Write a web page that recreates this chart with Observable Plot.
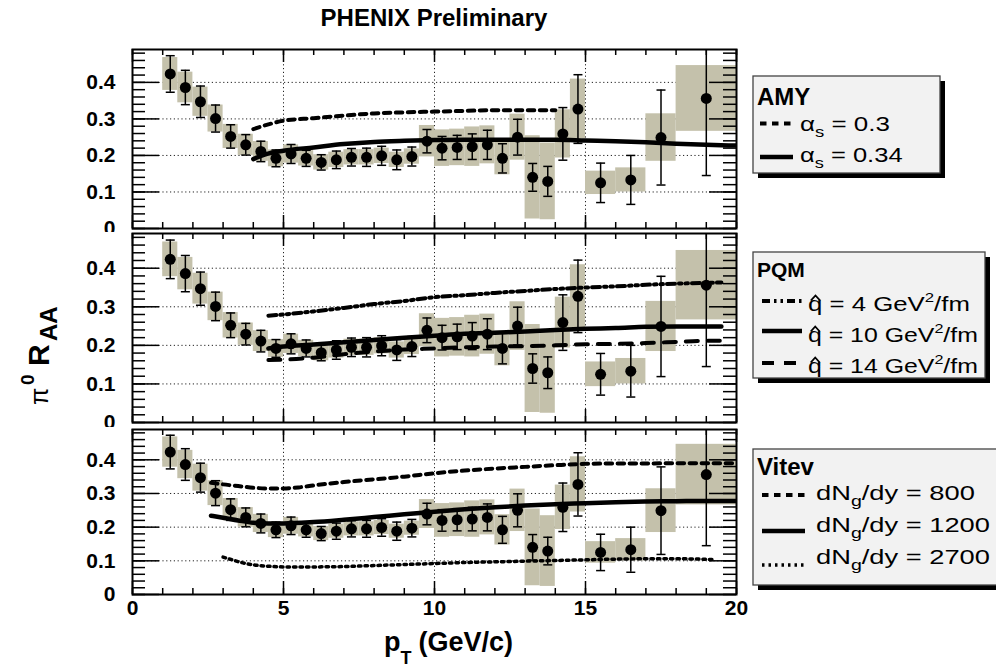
<!DOCTYPE html>
<html>
<head>
<meta charset="utf-8">
<script src="https://cdn.jsdelivr.net/npm/d3@7"></script>
<script src="https://cdn.jsdelivr.net/npm/@observablehq/plot@0.6"></script>
<style>
  html, body { margin: 0; padding: 0; background: #fff; }
  #chart { position: relative; width: 996px; height: 667px; overflow: hidden; background: #fff;
           font-family: "Liberation Sans", Arial, Helvetica, sans-serif; }
</style>
</head>
<body>
<div id="chart"></div>
<script>
// π0 nuclear modification factor versus pT, compared with three energy-loss calculations.

// ---- measured points ----
const pt = [1.25, 1.75, 2.25, 2.75, 3.25, 3.75, 4.25, 4.75, 5.25, 5.75, 6.25, 6.75, 7.25, 7.75, 8.25, 8.75,
            9.25, 9.75, 10.25, 10.75, 11.25, 11.75, 12.25, 12.75, 13.25, 13.75, 14.25, 14.75, 15.5, 16.5, 17.5, 19.0];
const binEdges = [1, 1.5, 2, 2.5, 3, 3.5, 4, 4.5, 5, 5.5, 6, 6.5, 7, 7.5, 8, 8.5, 9, 9.5, 10, 10.5, 11, 11.5,
                  12, 12.5, 13, 13.5, 14, 14.5, 15, 16, 17, 18, 20];
const raa = [0.423, 0.386, 0.347, 0.301, 0.252, 0.229, 0.211, 0.192, 0.204, 0.192, 0.181, 0.188, 0.195, 0.195, 0.199, 0.188,
             0.197, 0.239, 0.220, 0.222, 0.224, 0.229, 0.192, 0.250, 0.140, 0.129, 0.259, 0.327, 0.125, 0.133, 0.249, 0.356];
const statErr = [0.050, 0.047, 0.043, 0.037, 0.032, 0.028, 0.028, 0.023, 0.026, 0.022, 0.021, 0.024, 0.024, 0.025, 0.026, 0.027,
                 0.026, 0.032, 0.032, 0.033, 0.035, 0.040, 0.040, 0.049, 0.038, 0.041, 0.072, 0.094, 0.054, 0.067, 0.130, 0.211];
const sysErr = [0.045, 0.042, 0.040, 0.037, 0.033, 0.029, 0.027, 0.023, 0.025, 0.021, 0.021, 0.021, 0.021, 0.021, 0.021, 0.021,
                0.021, 0.043, 0.050, 0.050, 0.054, 0.052, 0.045, 0.063, 0.114, 0.105, 0.066, 0.082, 0.032, 0.033, 0.065, 0.090];

// ---- AMY ----
const amyPt030 = [4, 4.5, 5, 6, 7, 8, 9, 10, 11, 12, 13, 14];
const amyRaa030 = [0.272, 0.285, 0.295, 0.302, 0.309, 0.315, 0.318, 0.320, 0.322, 0.324, 0.324, 0.324];
const amyPt034 = [4, 4.4, 5, 6, 7, 8, 9, 10, 11, 12, 13, 14, 15, 16, 17, 18, 19, 20];
const amyRaa034 = [0.190, 0.203, 0.213, 0.222, 0.231, 0.237, 0.240, 0.242, 0.243, 0.243, 0.243, 0.243, 0.241, 0.239, 0.236, 0.232, 0.229, 0.227];

// ---- PQM ----
const pqmPt = [4.5, 5, 6, 7, 8, 9, 10, 11, 12, 13, 14, 15, 16, 17, 18, 19, 19.5];
const pqmRaaQ4 = [0.277, 0.280, 0.288, 0.297, 0.307, 0.315, 0.325, 0.330, 0.336, 0.341, 0.346, 0.350, 0.353, 0.357, 0.360, 0.362, 0.363];
const pqmRaaQ10 = [0.192, 0.197, 0.202, 0.208, 0.214, 0.220, 0.225, 0.230, 0.233, 0.236, 0.240, 0.243, 0.245, 0.248, 0.249, 0.249, 0.249];
const pqmRaaQ14 = [0.162, 0.163, 0.168, 0.177, 0.184, 0.189, 0.192, 0.195, 0.197, 0.198, 0.200, 0.203, 0.204, 0.206, 0.209, 0.212, 0.212];

// ---- Vitev (GLV) ----
const vitevPt800 = [2.6, 3, 3.5, 4, 4.5, 5, 5.5, 6, 7, 8, 9, 10, 11, 12, 13, 14, 15, 16, 17, 18, 19, 20];
const vitevRaa800 = [0.332, 0.327, 0.322, 0.317, 0.315, 0.315, 0.318, 0.324, 0.334, 0.342, 0.350, 0.360, 0.368, 0.374, 0.379, 0.384, 0.388, 0.389, 0.389, 0.390, 0.390, 0.390];
const vitevPt1200 = [2.6, 3, 3.5, 4, 4.5, 5, 6, 7, 8, 9, 10, 11, 12, 13, 14, 15, 16, 17, 18, 19, 20];
const vitevRaa1200 = [0.234, 0.228, 0.220, 0.213, 0.211, 0.211, 0.215, 0.222, 0.230, 0.238, 0.246, 0.253, 0.259, 0.264, 0.268, 0.271, 0.274, 0.276, 0.277, 0.278, 0.278];
const vitevPt2700 = [3.0, 3.3, 3.6, 4, 4.5, 5, 6, 7, 8, 9, 10, 11, 12, 13, 14, 15, 16, 17, 18, 19.2];
const vitevRaa2700 = [0.111, 0.103, 0.095, 0.088, 0.084, 0.082, 0.082, 0.083, 0.086, 0.089, 0.092, 0.095, 0.097, 0.099, 0.101, 0.103, 0.105, 0.106, 0.106, 0.104];

// ---- axes ----
const xLabelTicks = [0, 5, 10, 15, 20];
const yLabelTicks = [0, 0.1, 0.2, 0.3, 0.4];
const xGrid = [5, 10, 15];
const yGrid = [0.1, 0.2, 0.3, 0.4];

// ---- styles ----
const FONT = "Liberation Sans, Arial, Helvetica, sans-serif";
const BOX = "#c4c1ab";
const styles = {
  shortDash: {strokeWidth: 4, dash: "6.5 5.5"},
  solid: {strokeWidth: 4.5, dash: null},
  dashDotDot: {strokeWidth: 4, dash: "8 4 2.5 4 2.5 4"},
  longDash: {strokeWidth: 4, dash: "12 10"},
  dotted: {strokeWidth: 3.5, dash: "2.5 4"}
};

const points = pt.map((x, i) => ({
  pt: x, raa: raa[i], stat: statErr[i], sys: sysErr[i], lo: binEdges[i], hi: binEdges[i + 1]
}));
const series = (xs, ys) => xs.map((x, i) => ({x, y: ys[i]}));

const panels = [
  {top: 0, marginTop: 49, plotHeight: 179, marginBottom: 14, xLabels: false, curves: [
    {data: series(amyPt030, amyRaa030), ...styles.shortDash},
    {data: series(amyPt034, amyRaa034), ...styles.solid}]},
  {top: 232, marginTop: 1, plotHeight: 189, marginBottom: 14, xLabels: false, curves: [
    {data: series(pqmPt, pqmRaaQ4), ...styles.dashDotDot},
    {data: series(pqmPt, pqmRaaQ10), ...styles.solid},
    {data: series(pqmPt, pqmRaaQ14), ...styles.longDash}]},
  {top: 427, marginTop: 2, plotHeight: 165, marginBottom: 34, xLabels: true, curves: [
    {data: series(vitevPt800, vitevRaa800), ...styles.shortDash},
    {data: series(vitevPt1200, vitevRaa1200), ...styles.solid},
    {data: series(vitevPt2700, vitevRaa2700), ...styles.dotted}]}
];

// horizontal cap drawn at the ends of each error bar
const cap = {
  draw(context, size) {
    const w = Math.sqrt(size / Math.PI);
    context.moveTo(-w, 0);
    context.lineTo(w, 0);
  }
};

const W = 996, ML = 132, MR = 260, PW = W - ML - MR;
const yMinor = d3.range(0, 0.49, 0.02);
const xMinor = d3.range(0, 21, 1);
const chart = document.getElementById("chart");

for (const p of panels) {
  const H = p.plotHeight;
  const marks = [
    Plot.ruleY(yGrid, {y: d => d, stroke: "#222", strokeWidth: 1, strokeDasharray: "1.2 2.6"}),
    Plot.ruleX(xGrid, {x: d => d, stroke: "#222", strokeWidth: 1, strokeDasharray: "1.2 2.6"}),
    Plot.rect(points, {x1: "lo", x2: "hi", y1: d => d.raa - d.sys, y2: d => d.raa + d.sys, fill: BOX, clip: true}),
    ...p.curves.map(c => Plot.line(c.data, {
      x: "x", y: "y", stroke: "black", strokeWidth: c.strokeWidth, strokeDasharray: c.dash,
      curve: "monotone-x", clip: true
    })),
    Plot.ruleX(points, {x: "pt", y1: d => d.raa - d.stat, y2: d => d.raa + d.stat, stroke: "black", strokeWidth: 1.5, clip: true}),
    Plot.dot(points, {x: "pt", y: d => d.raa - d.stat, symbol: cap, r: 4.5, stroke: "black", fill: "none", strokeWidth: 1.5, clip: true}),
    Plot.dot(points, {x: "pt", y: d => d.raa + d.stat, symbol: cap, r: 4.5, stroke: "black", fill: "none", strokeWidth: 1.5, clip: true}),
    Plot.dot(points, {x: "pt", y: "raa", r: 5.5, fill: "black", stroke: "none", clip: true}),
    // inward ticks on all four sides
    Plot.tickY(yMinor, {y: d => d, insetRight: PW - 13, strokeWidth: 1.5}),
    Plot.tickY(yLabelTicks, {y: d => d, insetRight: PW - 27, strokeWidth: 1.5}),
    Plot.tickY(yMinor, {y: d => d, insetLeft: PW - 13, strokeWidth: 1.5}),
    Plot.tickY(yLabelTicks, {y: d => d, insetLeft: PW - 27, strokeWidth: 1.5}),
    Plot.tickX(xMinor, {x: d => d, insetBottom: H - 6, strokeWidth: 1.5}),
    Plot.tickX(xLabelTicks, {x: d => d, insetBottom: H - 13, strokeWidth: 1.5}),
    Plot.tickX(xMinor, {x: d => d, insetTop: H - 6, strokeWidth: 1.5}),
    Plot.tickX(xLabelTicks, {x: d => d, insetTop: H - 13, strokeWidth: 1.5}),
    Plot.frame({stroke: "black", strokeWidth: 2}),
    Plot.axisY({ticks: yLabelTicks, tickSize: 0, tickPadding: 17, fontSize: 21, fontWeight: "bold",
                tickFormat: d => d === 0 ? "0" : d.toFixed(1), label: null})
  ];
  if (p.xLabels) {
    marks.push(Plot.axisX({ticks: xLabelTicks, tickSize: 0, tickPadding: 6, fontSize: 21, fontWeight: "bold",
                           tickFormat: d => String(d), label: null}));
  }
  const svg = Plot.plot({
    width: W, height: p.marginTop + H + p.marginBottom,
    marginLeft: ML, marginRight: MR, marginTop: p.marginTop, marginBottom: p.marginBottom,
    x: {domain: [0, 20], axis: p.xLabels ? undefined : null},
    y: {domain: [0, 0.49]},
    style: {position: "absolute", top: p.top + "px", left: "0px", background: "white",
            fontFamily: FONT, color: "black", maxWidth: "none"},
    marks
  });
  chart.appendChild(svg);
}

// ---- titles, axis labels, legends ----
const ov = d3.select(chart).append("svg")
  .attr("width", 996).attr("height", 667)
  .style("position", "absolute").style("top", "0px").style("left", "0px")
  .attr("font-family", FONT);

ov.append("text").attr("x", 434).attr("y", 26).attr("text-anchor", "middle")
  .attr("font-size", 24).attr("font-weight", "bold").text("PHENIX Preliminary");

// x label: p_T (GeV/c)
const xl = ov.append("text").attr("x", 384).attr("y", 651).attr("font-weight", "bold").attr("font-size", 27);
xl.append("tspan").text("p");
xl.append("tspan").attr("dy", 13).attr("font-size", 18).text("T");
xl.append("tspan").attr("dy", -13).attr("dx", 7).text("(GeV/c)");

// y label: π0 R_AA, reading upward
const yl = ov.append("g").attr("transform", "translate(49,405) rotate(-90)");
yl.append("text").attr("x", 0).attr("y", -1).attr("font-size", 25).text("π");
yl.append("text").attr("x", 20).attr("y", -15).attr("font-size", 19).attr("font-weight", "bold").text("0");
yl.append("text").attr("x", 39).attr("y", 0).attr("font-size", 30).attr("font-weight", "bold").text("R");
yl.append("text").attr("x", 64).attr("y", 8).attr("font-size", 24).attr("font-weight", "bold").text("AA");

function legend(cfg) {
  const g = ov.append("g");
  g.append("rect").attr("x", cfg.x + 5).attr("y", cfg.y + 5).attr("width", cfg.w).attr("height", cfg.h).attr("fill", "black");
  g.append("rect").attr("x", cfg.x).attr("y", cfg.y).attr("width", cfg.w).attr("height", cfg.h)
    .attr("fill", "#f2f2f2").attr("stroke", "#444").attr("stroke-width", 1.3);
  g.append("text").attr("x", cfg.x + 4).attr("y", cfg.titleY).attr("font-size", cfg.titleSize)
    .attr("font-weight", "bold").text(cfg.title);
  for (const r of cfg.rows) {
    g.append("line").attr("x1", cfg.sx1).attr("x2", cfg.sx2).attr("y1", r.lineY).attr("y2", r.lineY)
      .attr("stroke", "black").attr("stroke-width", r.style.strokeWidth)
      .attr("stroke-dasharray", r.style.dash);
    const row = g.append("g");
    const t = row.append("text").attr("x", cfg.tx).attr("y", r.y).attr("font-size", cfg.size);
    for (const part of r.parts) {
      const s = t.append("tspan").text(part.t);
      if (part.size) s.attr("font-size", part.size);
      if (part.dy) s.attr("dy", part.dy);
    }
    if (r.hat) {
      // circumflex over the q
      const cx = cfg.tx + 5.8;
      row.append("path")
        .attr("d", `M${cx - 3.6},${r.y - 10.5}L${cx},${r.y - 15.5}L${cx + 3.6},${r.y - 10.5}`)
        .attr("fill", "none").attr("stroke", "black").attr("stroke-width", 1.4);
    }
    // stretch the entry horizontally to its set width
    const natural = t.node().getBBox().width;
    const sx = r.width / natural;
    row.attr("transform", `translate(${cfg.tx * (1 - sx)},0) scale(${sx},1)`);
  }
}

legend({x: 753, y: 76, w: 187, h: 97, title: "AMY", titleY: 105, titleSize: 24, size: 21,
  sx1: 760, sx2: 793, tx: 800, rows: [
    {y: 131, lineY: 123.5, width: 90, style: styles.shortDash, parts: [{t: "α"}, {t: "s", size: 15, dy: 6}, {t: " = 0.3", size: 21, dy: -6}]},
    {y: 162, lineY: 157, width: 103, style: styles.solid, parts: [{t: "α"}, {t: "s", size: 15, dy: 6}, {t: " = 0.34", size: 21, dy: -6}]}
  ]});

legend({x: 753, y: 252, w: 232, h: 126, title: "PQM", titleY: 277, titleSize: 21, size: 20,
  sx1: 762, sx2: 802, tx: 808, rows: [
    {y: 311, lineY: 301, width: 162, style: styles.dashDotDot, hat: true, parts: [{t: "q = 4 GeV"}, {t: "2", size: 13, dy: -9}, {t: "/fm", size: 20, dy: 9}]},
    {y: 342, lineY: 331, width: 170, style: styles.solid, hat: true, parts: [{t: "q = 10 GeV"}, {t: "2", size: 13, dy: -9}, {t: "/fm", size: 20, dy: 9}]},
    {y: 373, lineY: 363, width: 170, style: styles.longDash, hat: true, parts: [{t: "q = 14 GeV"}, {t: "2", size: 13, dy: -9}, {t: "/fm", size: 20, dy: 9}]}
  ]});

legend({x: 753, y: 449, w: 245, h: 136, title: "Vitev", titleY: 475, titleSize: 24, size: 21,
  sx1: 762, sx2: 805, tx: 816, rows: [
    {y: 500, lineY: 495, width: 159, style: styles.shortDash, parts: [{t: "dN"}, {t: "g", size: 15, dy: 6}, {t: "/dy = 800", size: 21, dy: -6}]},
    {y: 532, lineY: 531, width: 174, style: styles.solid, parts: [{t: "dN"}, {t: "g", size: 15, dy: 6}, {t: "/dy = 1200", size: 21, dy: -6}]},
    {y: 564, lineY: 565, width: 174, style: styles.dotted, parts: [{t: "dN"}, {t: "g", size: 15, dy: 6}, {t: "/dy = 2700", size: 21, dy: -6}]}
  ]});
</script>
</body>
</html>
